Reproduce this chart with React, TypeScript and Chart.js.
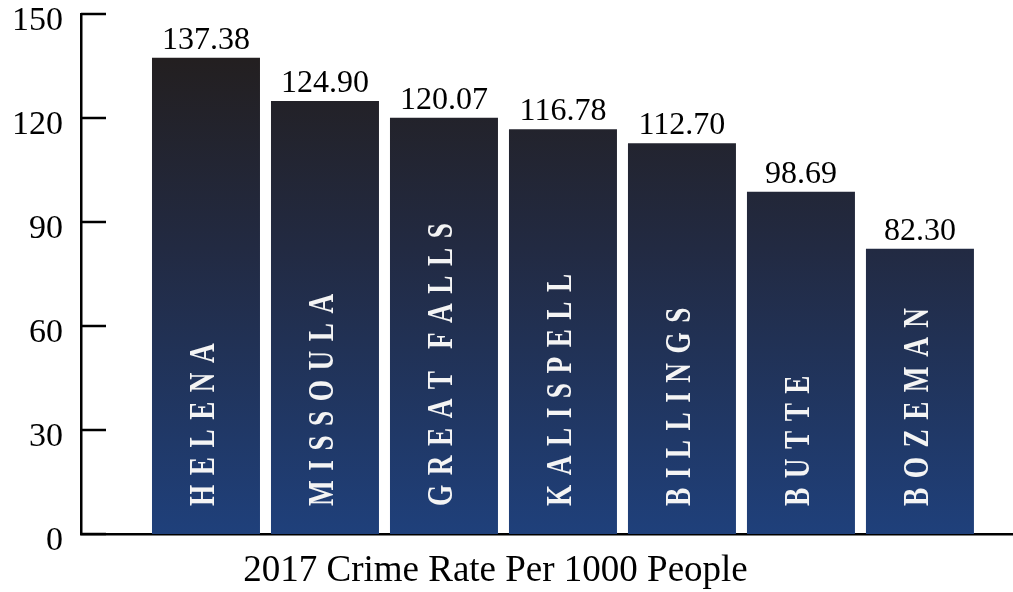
import React, { useEffect, useRef } from "react";
import { Chart, registerables } from "chart.js";

Chart.register(...registerables);

const cities = ["HELENA", "MISSOULA", "GREAT FALLS", "KALISPELL", "BILLINGS", "BUTTE", "BOZEMAN"];
const crimeRates = [137.38, 124.9, 120.07, 116.78, 112.7, 98.69, 82.3];
const valueLabels = ["137.38", "124.90", "120.07", "116.78", "112.70", "98.69", "82.30"];
const yTickValues = [0, 30, 60, 90, 120, 150];
const xTitle = "2017 Crime Rate Per 1000 People";

const SERIF = '"Liberation Serif", "Times New Roman", serif';

const overlayPlugin = {
  id: "overlay",
  afterDatasetsDraw(chart: any) {
    const ctx = chart.ctx;
    const meta = chart.getDatasetMeta(0);
    const yScale = chart.scales.y;
    const area = chart.chartArea;
    ctx.save();
    // tick marks pointing inward
    ctx.strokeStyle = "#000";
    ctx.lineWidth = 2.5;
    yTickValues.forEach((v) => {
      const y = yScale.getPixelForValue(v);
      ctx.beginPath();
      ctx.moveTo(area.left, y);
      ctx.lineTo(area.left + 25, y);
      ctx.stroke();
    });
    // value labels
    ctx.fillStyle = "#000";
    ctx.font = `32px ${SERIF}`;
    ctx.textAlign = "center";
    ctx.textBaseline = "alphabetic";
    meta.data.forEach((el: any, i: number) => {
      ctx.fillText(valueLabels[i], el.x, el.y - 9);
    });
    // city labels (rotated, letter spaced, condensed)
    const fs = 35;
    const squeeze = 0.78;
    const gap = 9.5;
    meta.data.forEach((el: any, i: number) => {
      ctx.save();
      ctx.translate(el.x - 1, el.base - 28);
      ctx.rotate(-Math.PI / 2);
      ctx.scale(squeeze, 1);
      ctx.font = `bold ${fs}px ${SERIF}`;
      ctx.fillStyle = "#f4f4f4";
      ctx.textAlign = "left";
      ctx.textBaseline = "middle";
      let pos = 0;
      for (const ch of cities[i]) {
        if (ch === " ") {
          pos += (gap * 1.3) / squeeze;
          continue;
        }
        ctx.fillText(ch, pos, 0);
        pos += ctx.measureText(ch).width + gap / squeeze;
      }
      ctx.restore();
    });
    // axis title
    ctx.fillStyle = "#000";
    ctx.font = `37px ${SERIF}`;
    ctx.textAlign = "center";
    ctx.textBaseline = "alphabetic";
    ctx.fillText(xTitle, 495.5, 581);
    ctx.restore();
  },
};

export default function App() {
  const canvasRef = useRef<HTMLCanvasElement | null>(null);

  useEffect(() => {
    document.body.style.margin = "0";
    const canvas = canvasRef.current;
    if (!canvas) return;
    const chart = new Chart(canvas, {
      type: "bar",
      data: {
        labels: cities,
        datasets: [
          {
            data: crimeRates.map((v, i) => ({ x: i, y: v })),
            backgroundColor: (c: any) => {
              const ch = c.chart;
              const area = ch.chartArea;
              if (!area) return "#1f407b";
              const ys = ch.scales.y;
              const top = ys.getPixelForValue(Math.max(...crimeRates));
              const g = ch.ctx.createLinearGradient(0, top, 0, area.bottom);
              g.addColorStop(0, "#231f20");
              g.addColorStop(0.4, "#222a42");
              g.addColorStop(1, "#1f407b");
              return g;
            },
            borderWidth: 0,
            barPercentage: 108 / 119,
            categoryPercentage: 1,
          },
        ],
      },
      options: {
        responsive: true,
        maintainAspectRatio: false,
        animation: false,
        layout: { padding: { top: 14, left: 0, right: 0, bottom: 0 } },
        plugins: {
          legend: { display: false },
          tooltip: { enabled: false },
          title: { display: false },
        },
        scales: {
          x: {
            type: "linear",
            offset: false,
            min: -1.0504,
            max: 6.782,
            grid: { display: false, drawTicks: false },
            ticks: { display: false },
            border: { display: true, color: "#000", width: 2.5 },
            afterBuildTicks: (s: any) => {
              s.ticks = cities.map((_, i) => ({ value: i }));
            },
            afterFit: (s: any) => {
              s.height = 58;
              s.paddingLeft = 0;
              s.paddingRight = 0;
            },
          },
          y: {
            min: 0,
            max: 150,
            grid: { display: false, drawTicks: false },
            border: { display: true, color: "#000", width: 2.5 },
            afterBuildTicks: (s: any) => {
              s.ticks = yTickValues.map((v) => ({ value: v }));
            },
            ticks: {
              color: "#000",
              padding: 18,
              labelOffset: 7,
              font: { family: SERIF, size: 34 },
              callback: (v: any) => String(v),
            },
            afterFit: (s: any) => {
              s.width = 81;
              s.paddingTop = 0;
              s.paddingBottom = 0;
            },
          },
        },
      },
      plugins: [overlayPlugin],
    });
    return () => chart.destroy();
  }, []);

  return (
    <div style={{ position: "fixed", left: 0, top: 0, width: 1013, height: 592, background: "#fff" }}>
      <canvas ref={canvasRef} />
    </div>
  );
}
